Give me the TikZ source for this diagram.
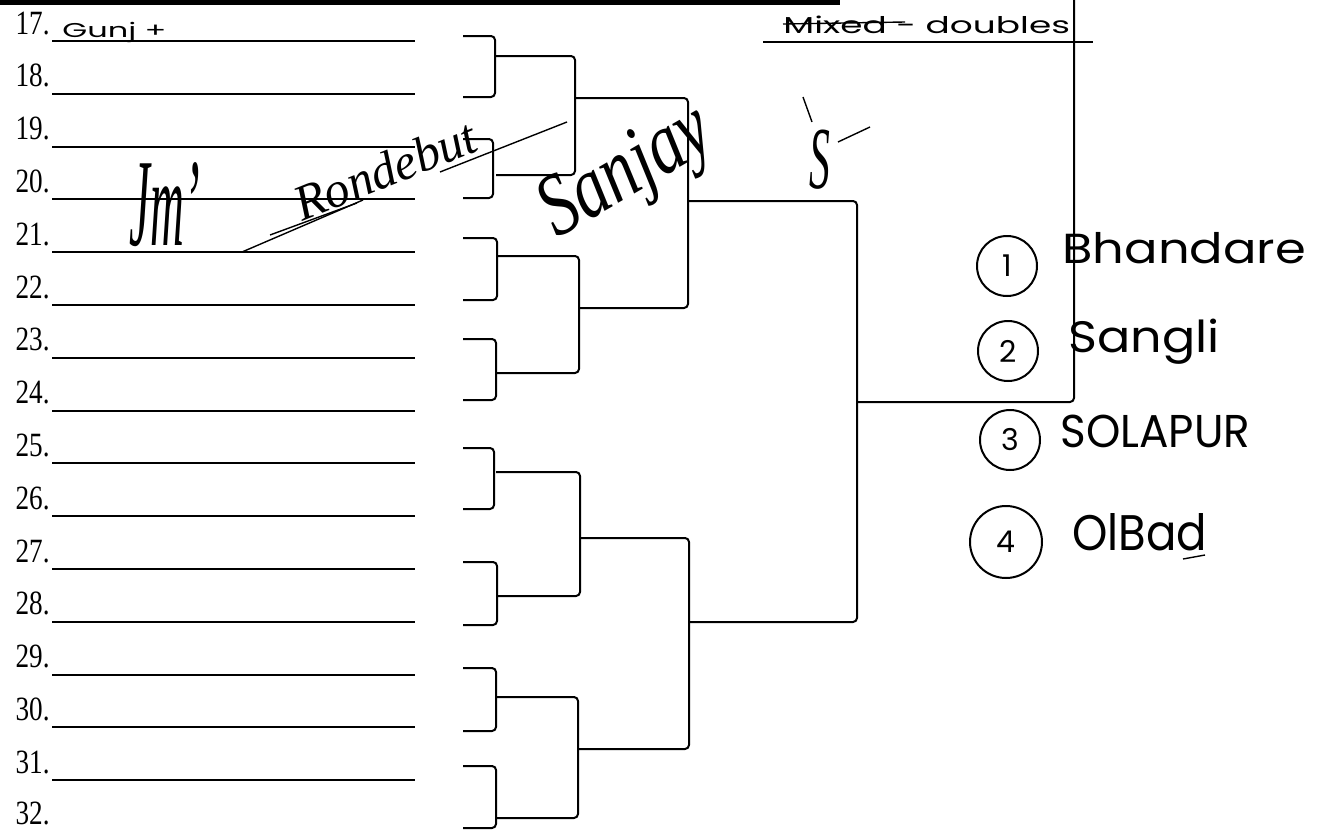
\documentclass[tikz,border=0pt]{standalone}
\usepackage{fontspec}
\usepackage{graphicx}
\setmainfont{Liberation Serif}
\newfontfamily\numfont[FakeStretch=0.8]{Liberation Serif}
\newfontfamily\handfont{Poppins}
\tikzset{
  entry/.style={line width=1pt},
  bracket/.style={line width=1pt, rounded corners=2pt},
  num/.style={font=\numfont\fontsize{17}{17}\selectfont, anchor=base east, inner sep=0pt},
  hand/.style={font=\handfont, inner sep=0pt, anchor=base west},
  seed/.style={draw, circle, line width=1pt, minimum size=30pt, inner sep=0pt, font=\handfont\fontsize{15}{15}\selectfont},
  sign/.style={font=\itshape, inner sep=0pt},
  stroke/.style={line width=0.7pt},
}
\begin{document}
\begin{tikzpicture}[x=0.5pt, y=-0.5pt]
    \useasboundingbox (0,0) rectangle (1318,830);
    % top edge of the sheet
    \draw[line width=2.5pt] (0,2) -- (840,2);

    % entry lines 17--32
    \foreach \n [count=\k from 0] in {17,...,31} {
        \pgfmathsetmacro{\ly}{41+52.8*\k}
        \node[num] (lab\n) at (50,\ly-7) {\n.};
        \draw[entry] (52,\ly) coordinate (e\n) -- (415,\ly);
    }
    \node[num] (lab32) at (50,824) {32.};

    % first round
    \foreach \t/\b/\v [count=\k] in {36/97/495, 139/198/493, 238/300/497, 339/400/496,
                                      448/509/494, 562/625/497, 668/731/496, 766/828/496} {
        \coordinate (p\k) at (463,\t);
        \coordinate (q\k) at (463,\b);
        \draw[bracket] (p\k) -| (\v,\b) -- (q\k);
    }

    % second round
    \foreach \t/\b/\v/\o [count=\k] in {56/175/575/98, 256/373/579/308,
                                        472/596/580/538, 697/818/578/749} {
        \draw[bracket] (496,\t) -| (\v,\b) -- (496,\b);
        \coordinate (w\k) at (\v,\o);
    }

    % semi finals and final
    \draw[bracket] (w1) -| (688,308) -- (w2);
    \draw[bracket] (w3) -| (689,749) -- (w4);
    \coordinate (s1) at (688,201);
    \coordinate (s2) at (689,622);
    \draw[bracket] (s1) -| (857,622) -- (s2);
    \coordinate (fin) at (857,402);
    \coordinate (top) at (1074,0);
    \draw[bracket] (fin) -| (top);

    % heading
    \node[hand] (head) at (783,33) {\fontsize{11.5}{12}\selectfont\scalebox{1.56}[1]{Mixed - doubles}};
    \draw[entry] (763,42) -- (1093,42);
    \draw[stroke] (783,24) -- (905,22);

    % names written in
    \node[hand] (gunj) at (62,37) {\fontsize{10}{10}\selectfont\scalebox{1.6}[1]{Gunj +}};

    \node[seed] (n1) at (1007,266) {1};
    \node[hand] (bhan) at (1062,263) {\fontsize{21}{22}\selectfont\scalebox{1.18}[1]{Bhandare}};
    \node[seed] (n2) at (1008,351) {2};
    \node[hand] (sang) at (1068,352) {\fontsize{22}{22}\selectfont\scalebox{1.12}[1]{Sangli}};
    \node[seed] (n3) at (1010,440) {3};
    \node[hand] (sola) at (1060,447) {\fontsize{23}{24}\selectfont\scalebox{0.95}[1]{SOLAPUR}};
    \node[seed, minimum size=36pt] (n4) at (1006,542) {4};
    \node[hand] (obad) at (1072,550) {\fontsize{25}{26}\selectfont\scalebox{0.9}[1]{OlBad}};
    \draw[stroke] (1183,559) -- (1205,555);

    % signatures
    \node[sign] (sig1) at (165,205) {\fontsize{26}{26}\selectfont\scalebox{0.9}[2.4]{Jm'}};
    \node[sign, rotate=22] (sig2) at (385,170) {\fontsize{25}{25}\selectfont Rondebut};
    \draw[stroke] (242,252) -- (363,200);
    \draw[stroke] (270,235) -- (357,203);
    \draw[stroke] (440,172) -- (567,122);
    \node[sign, rotate=30] (sig3) at (628,175) {\fontsize{34}{34}\selectfont\scalebox{1}[1.3]{Sanjay}};
    \node[sign] (sig4) at (820,160) {\fontsize{26}{26}\selectfont\scalebox{0.8}[1.7]{S}};
    \draw[stroke] (838,142) -- (870,127);
    \draw[stroke] (803,97) -- (812,122);
\end{tikzpicture}
\end{document}
